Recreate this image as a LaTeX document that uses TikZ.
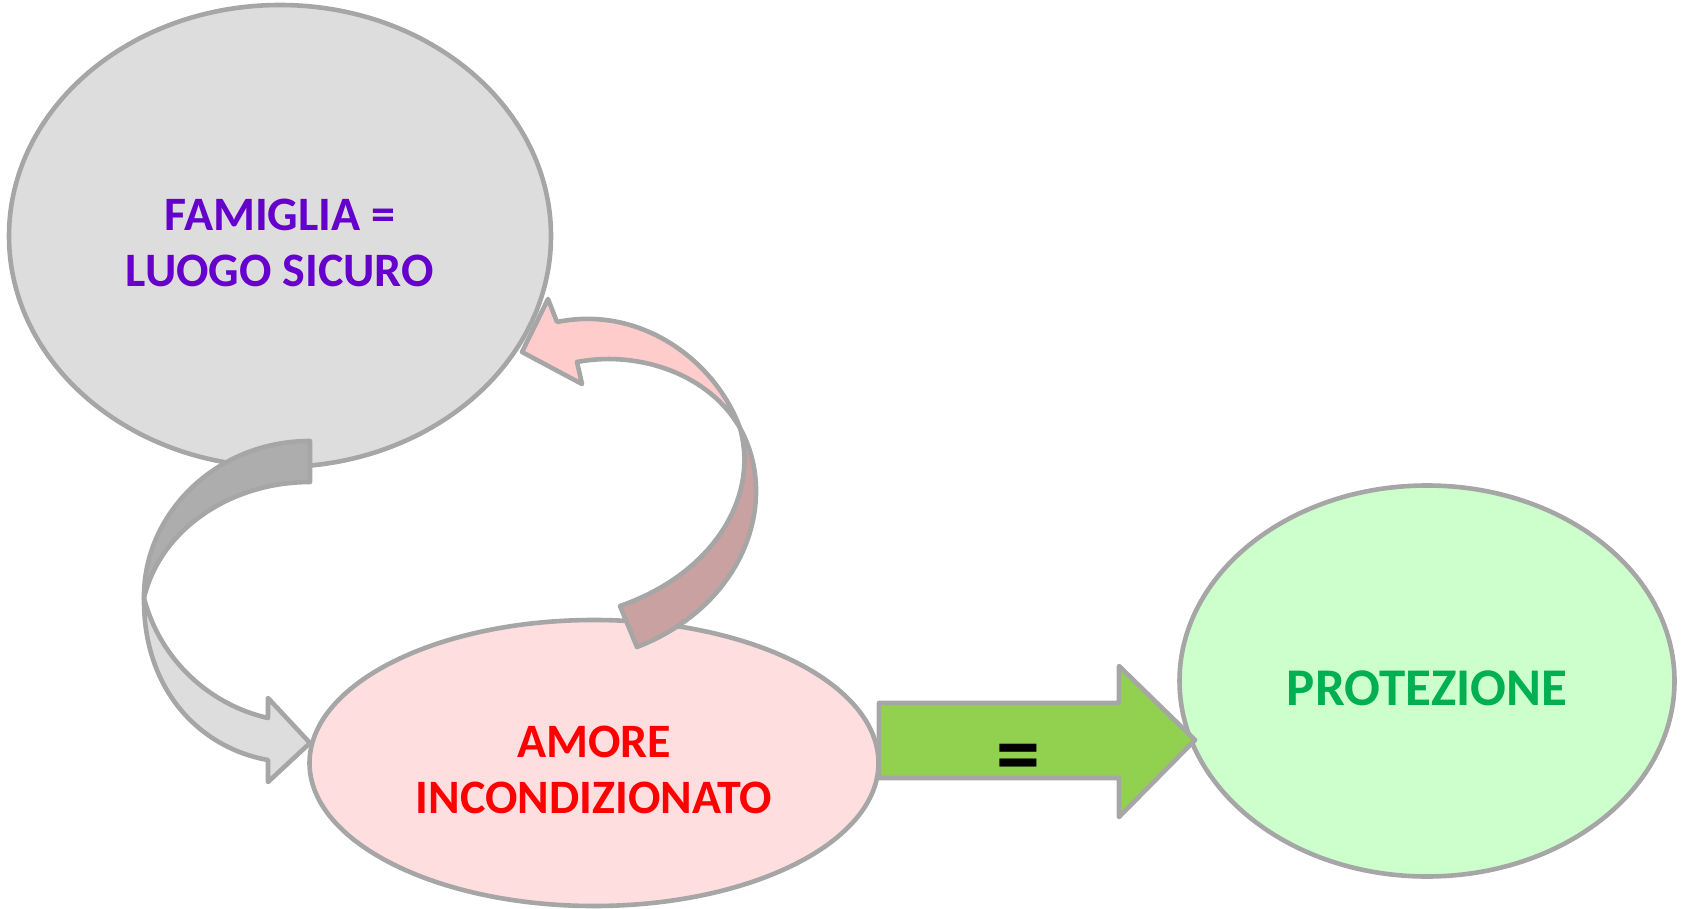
\documentclass[tikz,border=0pt]{standalone}
\usepackage{fontspec}
\setmainfont{Carlito}
\usetikzlibrary{shapes.geometric}
\definecolor{edgegray}{HTML}{A6A6A6}
\definecolor{famfill}{HTML}{DDDDDD}
\definecolor{amofill}{HTML}{FFDEE0}
\definecolor{profill}{HTML}{CCFFCC}
\definecolor{famtext}{HTML}{6600CC}
\definecolor{amotext}{HTML}{FF0000}
\definecolor{protext}{HTML}{00B050}
\definecolor{grydark}{HTML}{ADADAD}
\definecolor{grylight}{HTML}{DDDDDD}
\definecolor{pinklight}{HTML}{FFCCCC}
\definecolor{pinkdark}{HTML}{C9A1A1}
\definecolor{arrowgreen}{HTML}{92D050}
\begin{document}
\begin{tikzpicture}[x=0.5pt,y=-0.5pt,
  bubble/.style={ellipse, draw=edgegray, line width=2.3pt, inner sep=0pt},
  bubtext/.style={align=center, inner sep=0pt, yshift=-3.5pt},
  band/.style={draw=edgegray, line width=2.3pt, line join=round}]
\path[use as bounding box] (0,0) rectangle (1681,909);
% ellipses
\node[bubble, fill=famfill, minimum width=271pt, minimum height=231pt,
      label={[bubtext, font=\bfseries\fontsize{24}{28}\selectfont, text=famtext]center:FAMIGLIA =\\LUOGO SICURO}] (fam) at (280,236) {};
\node[bubble, fill=amofill, minimum width=284.5pt, minimum height=143pt,
      label={[bubtext, font=\bfseries\fontsize{24}{28}\selectfont, text=amotext]center:AMORE\\INCONDIZIONATO}] (amo) at (594,763) {};
\node[bubble, fill=profill, minimum width=247.5pt, minimum height=195.5pt,
      label={[bubtext, font=\bfseries\fontsize{26.5}{28}\selectfont, text=protext]center:PROTEZIONE}] (pro) at (1427,681) {};
% gray curved arrow (fam -> amo)
\path[band, fill=grydark] (310,441) .. controls (215,441) and (143,515) .. (144,598)
   .. controls (160,530) and (230,482) .. (310,482) -- cycle;
\path[band, fill=grylight] (144,598) .. controls (143,690) and (200,748) .. (268,760)
   -- (268,782) -- (310,743) -- (268,698) -- (268,718)
   .. controls (210,705) and (160,660) .. (144,598) -- cycle;
% pink curved arrow (amo -> fam)
\path[band, fill=pinklight] (740,428) .. controls (715,360) and (640,305) .. (557,322)
   -- (548,299) -- (522,352) -- (582,384) -- (577,362)
   .. controls (640,350) and (710,375) .. (740,428) -- cycle;
\path[band, fill=pinkdark] (740,428) .. controls (780,500) and (745,605) .. (637,647)
   -- (620,606) .. controls (710,575) and (760,500) .. (740,428) -- cycle;
% green block arrow (amo -> pro)
\path[band, fill=arrowgreen] (879,703) -- (1119,703) -- (1119,666) -- (1195,740)
   -- (1119,817) -- (1119,778) -- (879,778) -- cycle;
\node[font=\bfseries\fontsize{44}{44}\selectfont, text=black, inner sep=0pt] (eq) at (1018,764) {=};
\end{tikzpicture}
\end{document}
